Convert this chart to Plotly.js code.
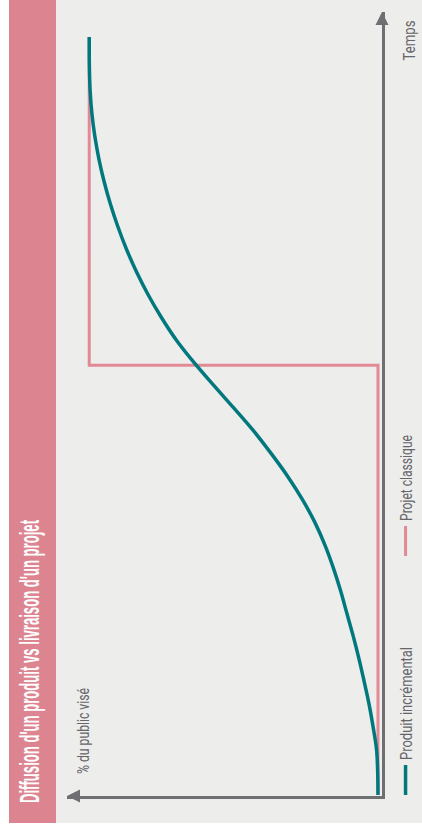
<!DOCTYPE html>
<html>
<head>
<meta charset="utf-8">
<script src="https://cdn.plot.ly/plotly-3.0.1.min.js"></script>
<style>
  html, body { margin: 0; padding: 0; background: #ffffff; overflow: hidden; width: 422px; height: 836px; }
  #chart { position: absolute; left: 0; top: 836px; width: 836px; height: 422px; transform-origin: 0 0; transform: rotate(-90deg); }
</style>
</head>
<body>
<div id="chart"></div>
<script>
// Data (time in arbitrary units 0-100, share of target audience in %)
const titleText = "Diffusion d'un produit vs livraison d'un projet";
const xLabel = "Temps";
const yLabel = "% du public visé";
const seriesNames = ["Produit incrémental", "Projet classique"];
const incrementalTime = [0, 3, 6, 9, 12, 15, 18, 21, 24, 27, 30, 33, 36, 39, 42, 45, 48, 51, 54, 57, 60, 63, 66, 69, 72, 75, 78, 81, 84, 87, 90, 93, 96, 100];
const incrementalPct  = [0, 0.1, 0.5, 1.7, 3.1, 4.8, 6.6, 8.6, 10.8, 13.0, 15.5, 18.4, 21.9, 26.2, 31.2, 36.9, 43.0, 49.8, 56.8, 63.6, 69.8, 75.0, 79.6, 83.6, 87.1, 90.1, 92.7, 94.9, 96.7, 98.1, 99.1, 99.7, 99.95, 100];
const classicTime = [0, 56.7, 56.7, 100];
const classicPct  = [0, 0, 100, 100];

const teal = '#00787e', pink = '#e28995', band = '#dc8591', bg = '#ededeb', axisGrey = '#6f6f73', textGrey = '#66666a';
const W = 836, H = 422, L = 40, R = 12, T = 67, B = 40;
const pw = W - L - R, ph = H - T - B;
const px = u => (u - L) / pw;          // horizontal pixel -> paper
const py = v => (H - B - v) / ph;      // vertical pixel (from top) -> paper

const traces = [
  { x: classicTime, y: classicPct, name: seriesNames[1], mode: 'lines', legendrank: 2,
    line: { color: pink, width: 3 } },
  { x: incrementalTime, y: incrementalPct, name: seriesNames[0], mode: 'lines', legendrank: 1,
    line: { color: teal, width: 3.5, shape: 'spline', smoothing: 1 } }
];

const labelFont = 'Roboto, "Liberation Sans Narrow", sans-serif';
const layout = {
  width: W, height: H,
  margin: { l: L, r: R, t: T, b: B, pad: 0, autoexpand: false },
  paper_bgcolor: '#ffffff', plot_bgcolor: 'rgba(0,0,0,0)',
  font: { family: labelFont, color: textGrey, size: 17 },
  xaxis: { range: [-0.13, 103.3], showgrid: false, zeroline: false, showticklabels: false, ticks: '',
           showline: true, linecolor: axisGrey, linewidth: 2.5, fixedrange: true, automargin: false },
  yaxis: { range: [-1.39, 107.7], showgrid: false, zeroline: false, showticklabels: false, ticks: '',
           showline: true, linecolor: axisGrey, linewidth: 2.5, fixedrange: true, automargin: false },
  showlegend: true,
  legend: { orientation: 'h', x: px(36), xanchor: 'left', y: py(406), yanchor: 'middle',
            bgcolor: 'rgba(0,0,0,0)', font: { size: 17, color: textGrey },
            entrywidthmode: 'pixels', entrywidth: 194, traceorder: 'normal' },
  shapes: [
    { type: 'rect', xref: 'paper', yref: 'paper', x0: px(13), x1: px(W + 20), y0: py(H + 20), y1: py(56),
      fillcolor: bg, line: { width: 0 }, layer: 'below' },
    { type: 'rect', xref: 'paper', yref: 'paper', x0: px(13), x1: px(W + 20), y0: py(56), y1: py(9),
      fillcolor: band, line: { width: 0 }, layer: 'below' },
    { type: 'path', xref: 'paper', yref: 'paper', xsizemode: 'pixel', ysizemode: 'pixel', xanchor: 1, yanchor: 0,
      path: 'M0,0 L-13,6.5 L-13,-6.5 Z', fillcolor: axisGrey, line: { width: 0 } },
    { type: 'path', xref: 'paper', yref: 'paper', xsizemode: 'pixel', ysizemode: 'pixel', xanchor: 0, yanchor: 1,
      path: 'M0,0 L-6.5,-13 L6.5,-13 Z', fillcolor: axisGrey, line: { width: 0 } }
  ],
  annotations: [
    { text: titleText, xref: 'paper', yref: 'paper', x: px(31), y: py(30), xanchor: 'left', yanchor: 'middle',
      align: 'left', showarrow: false,
      font: { family: '"Liberation Sans Narrow", "Liberation Sans", sans-serif', size: 27, weight: 700, color: '#ffffff' } },
    { text: xLabel, xref: 'paper', yref: 'paper', x: px(818), y: py(409), xanchor: 'right', yanchor: 'middle',
      align: 'right', showarrow: false, font: { size: 17, color: textGrey } },
    { text: yLabel, xref: 'paper', yref: 'paper', x: px(60), y: py(83), xanchor: 'left', yanchor: 'middle',
      align: 'left', showarrow: false, font: { size: 17, color: textGrey } }
  ]
};

function condense(el, len) {
  if (!el) return;
  el.setAttribute('textLength', len);
  el.setAttribute('lengthAdjust', 'spacingAndGlyphs');
}

Plotly.newPlot('chart', traces, layout, { staticPlot: true, displayModeBar: false }).then(() => {
  // condensed typeface of the original design
  const ann = document.querySelectorAll('#chart .annotation-text');
  condense(ann[0], 283);
  condense(ann[1], 40);
  condense(ann[2], 86);
  document.querySelectorAll('#chart .legendtext').forEach(el => {
    const txt = el.textContent;
    if (txt === seriesNames[0]) condense(el, 113);
    if (txt === seriesNames[1]) condense(el, 86);
  });
});
</script>
</body>
</html>
